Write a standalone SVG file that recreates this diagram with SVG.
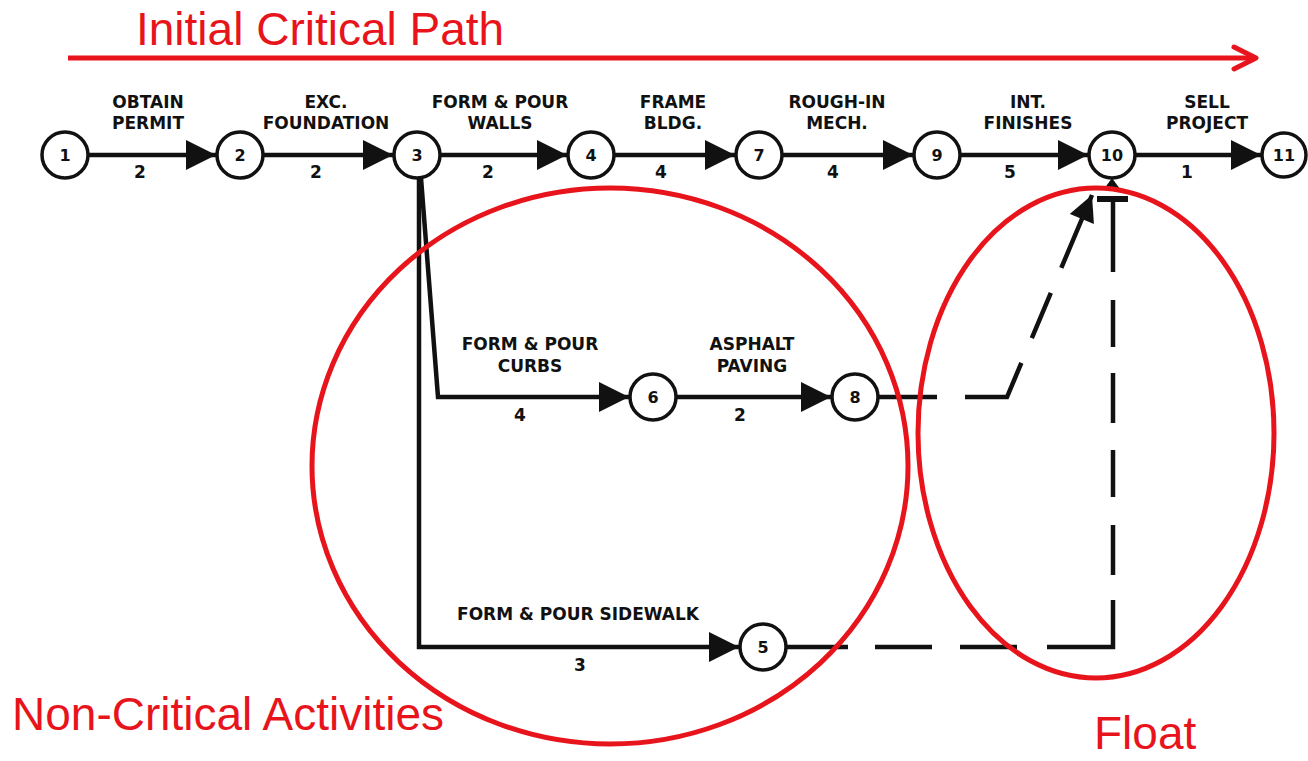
<svg xmlns="http://www.w3.org/2000/svg" width="1308" height="761" viewBox="0 0 1308 761">
<style>
.ln{fill:none;stroke:#111;stroke-width:4.5;stroke-linecap:butt;stroke-linejoin:miter}
.nd{fill:#fff;stroke:#111;stroke-width:3.5}
.nt{font-family:"DejaVu Sans",sans-serif;font-weight:bold;font-size:16px;fill:#111;text-anchor:middle}
.lb{font-family:"DejaVu Sans",sans-serif;font-weight:bold;font-size:17px;fill:#111;text-anchor:middle}
.rd{fill:none;stroke:#e8141c;stroke-width:5}
.rt{font-family:"Liberation Sans",Arial,sans-serif;font-size:46px;fill:#e8141c}
</style>
<defs>
<marker id="ah" viewBox="0 0 10 10" refX="10" refY="5" markerWidth="32" markerHeight="30" markerUnits="userSpaceOnUse" orient="auto">
<path d="M0,0 L10,5 L0,10 z" fill="#111"/>
</marker>
<marker id="ah2" viewBox="0 0 10 10" refX="10" refY="5" markerWidth="28" markerHeight="26" markerUnits="userSpaceOnUse" orient="auto">
<path d="M0,0 L10,5 L0,10 z" fill="#111"/>
</marker>
</defs>

<g id="connectors">
<line class="ln" x1="89" y1="155" x2="216" y2="155" marker-end="url(#ah)"/>
<line class="ln" x1="264" y1="155" x2="393" y2="155" marker-end="url(#ah)"/>
<line class="ln" x1="441" y1="155" x2="567" y2="155" marker-end="url(#ah)"/>
<line class="ln" x1="615" y1="155" x2="735" y2="155" marker-end="url(#ah)"/>
<line class="ln" x1="783" y1="155" x2="913" y2="155" marker-end="url(#ah)"/>
<line class="ln" x1="961" y1="155" x2="1088" y2="155" marker-end="url(#ah)"/>
<line class="ln" x1="1136" y1="155" x2="1261" y2="155" marker-end="url(#ah)"/>
<path class="ln" d="M421 178 L438 397 L629 397" marker-end="url(#ah)"/>
<line class="ln" x1="677" y1="397" x2="831" y2="397" marker-end="url(#ah)"/>
<path class="ln" d="M419 178 L419 647 L739 647" marker-end="url(#ah)"/>
<line class="ln" x1="879" y1="397" x2="937" y2="397"/>
<path class="ln" d="M965 397 L1007 397 L1092 195" stroke-dasharray="79 27 49 27 300" stroke-width="5" marker-end="url(#ah2)"/>
<line class="ln" x1="787" y1="647" x2="848" y2="647"/>
<path class="ln" d="M875 647 L1113 647 L1113 202" stroke-width="5" stroke-dasharray="57 28 57 30 113 25 50 28 47 27 50 26 47 28 75"/>
<polygon points="1112,178 1104,189 1120,189" fill="#111"/>
<rect x="1097" y="196" width="31" height="6" fill="#111"/>
</g>

<g id="n1"><circle class="nd" cx="65" cy="155" r="23"/><text class="nt" x="65" y="161">1</text></g>
<g id="n2"><circle class="nd" cx="240" cy="155" r="23"/><text class="nt" x="240" y="161">2</text></g>
<g id="n3"><circle class="nd" cx="417" cy="155" r="23"/><text class="nt" x="417" y="161">3</text></g>
<g id="n4"><circle class="nd" cx="591" cy="155" r="23"/><text class="nt" x="591" y="161">4</text></g>
<g id="n7"><circle class="nd" cx="759" cy="155" r="23"/><text class="nt" x="759" y="161">7</text></g>
<g id="n9"><circle class="nd" cx="937" cy="155" r="23"/><text class="nt" x="937" y="161">9</text></g>
<g id="n10"><circle class="nd" cx="1112" cy="155" r="23"/><text class="nt" x="1112" y="161">10</text></g>
<g id="n11"><circle class="nd" cx="1284" cy="155" r="22"/><text class="nt" x="1284" y="161">11</text></g>
<g id="n6"><circle class="nd" cx="653" cy="397" r="23"/><text class="nt" x="653" y="403">6</text></g>
<g id="n8"><circle class="nd" cx="855" cy="397" r="23"/><text class="nt" x="855" y="403">8</text></g>
<g id="n5"><circle class="nd" cx="763" cy="647" r="23"/><text class="nt" x="763" y="653">5</text></g>

<g id="labels">
<text class="lb" x="148" y="108">OBTAIN</text><text class="lb" x="148" y="129">PERMIT</text><text class="lb" x="140" y="178">2</text>
<text class="lb" x="326" y="108">EXC.</text><text class="lb" x="326" y="129">FOUNDATION</text><text class="lb" x="316" y="178">2</text>
<text class="lb" x="500" y="108">FORM &amp; POUR</text><text class="lb" x="500" y="129">WALLS</text><text class="lb" x="488" y="178">2</text>
<text class="lb" x="673" y="108">FRAME</text><text class="lb" x="673" y="129">BLDG.</text><text class="lb" x="661" y="178">4</text>
<text class="lb" x="837" y="108">ROUGH-IN</text><text class="lb" x="837" y="129">MECH.</text><text class="lb" x="833" y="178">4</text>
<text class="lb" x="1028" y="108">INT.</text><text class="lb" x="1028" y="129">FINISHES</text><text class="lb" x="1010" y="178">5</text>
<text class="lb" x="1207" y="108">SELL</text><text class="lb" x="1207" y="129">PROJECT</text><text class="lb" x="1187" y="178">1</text>
<text class="lb" x="530" y="350">FORM &amp; POUR</text><text class="lb" x="530" y="372">CURBS</text><text class="lb" x="520" y="421">4</text>
<text class="lb" x="752" y="350">ASPHALT</text><text class="lb" x="752" y="372">PAVING</text><text class="lb" x="740" y="421">2</text>
<text class="lb" x="578" y="620">FORM &amp; POUR SIDEWALK</text><text class="lb" x="580" y="671">3</text>
</g>

<g id="annotations">
<line class="rd" x1="68" y1="58" x2="1253" y2="58"/>
<polyline points="1234,47 1256,58 1234,69" fill="none" stroke="#e8141c" stroke-width="5" stroke-linecap="round" stroke-linejoin="round"/>
<ellipse class="rd" cx="610" cy="466" rx="298" ry="278"/>
<ellipse class="rd" cx="1096" cy="433" rx="178" ry="245"/>
<text class="rt" x="136" y="45">Initial Critical Path</text>
<text class="rt" x="12" y="730">Non-Critical Activities</text>
<text class="rt" x="1094" y="749" font-size="42">Float</text>
</g>
</svg>
